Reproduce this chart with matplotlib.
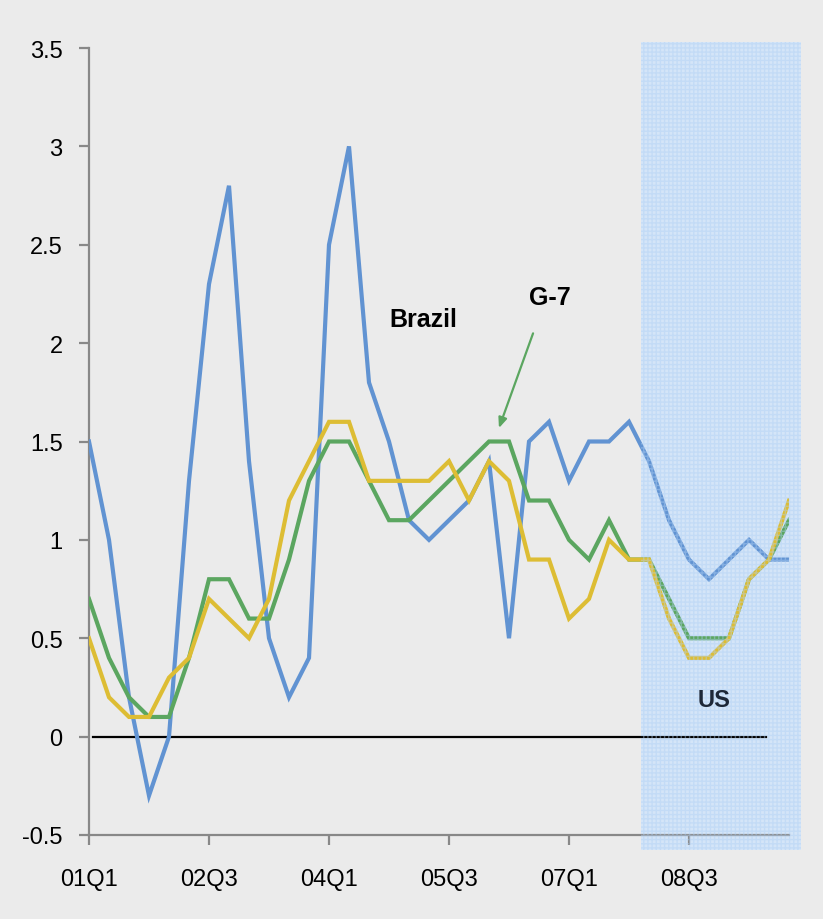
import matplotlib
matplotlib.use("Agg")
import matplotlib.pyplot as plt
from matplotlib.patches import Rectangle
import numpy as np

plt.rcParams['font.family'] = ['Liberation Sans', 'DejaVu Sans']

quarters = [f"{y:02d}Q{q}" for y in range(1, 10) for q in range(1, 5)]
tick_labels = ["01Q1", "02Q3", "04Q1", "05Q3", "07Q1", "08Q3"]

brazil = [1.5, 1.0, 0.2, -0.3, 0.0, 1.3, 2.3, 2.8, 1.4, 0.5, 0.2, 0.4,
          2.5, 3.0, 1.8, 1.5, 1.1, 1.0, 1.1, 1.2, 1.4, 0.5, 1.5, 1.6,
          1.3, 1.5, 1.5, 1.6, 1.4, 1.1, 0.9, 0.8, 0.9, 1.0, 0.9, 0.9]
g7 = [0.7, 0.4, 0.2, 0.1, 0.1, 0.4, 0.8, 0.8, 0.6, 0.6, 0.9, 1.3,
      1.5, 1.5, 1.3, 1.1, 1.1, 1.2, 1.3, 1.4, 1.5, 1.5, 1.2, 1.2,
      1.0, 0.9, 1.1, 0.9, 0.9, 0.7, 0.5, 0.5, 0.5, 0.8, 0.9, 1.1]
us = [0.5, 0.2, 0.1, 0.1, 0.3, 0.4, 0.7, 0.6, 0.5, 0.7, 1.2, 1.4,
      1.6, 1.6, 1.3, 1.3, 1.3, 1.3, 1.4, 1.2, 1.4, 1.3, 0.9, 0.9,
      0.6, 0.7, 1.0, 0.9, 0.9, 0.6, 0.4, 0.4, 0.5, 0.8, 0.9, 1.2]

bg = '#EBEBEB'
fig = plt.figure(figsize=(8.23, 9.2), dpi=100, facecolor=bg)
ax = fig.add_axes([89/823, 1-836/920, 700/823, 787/920])
ax.set_facecolor(bg)

x = np.arange(len(quarters))
ax.plot(x, brazil, color='#6193D2', lw=3.0, solid_joinstyle='miter', zorder=3)
ax.plot(x, g7, color='#5BA660', lw=3.0, solid_joinstyle='miter', zorder=4)
ax.plot(x, us, color='#DDBD34', lw=3.0, solid_joinstyle='miter', zorder=5)

ax.axhline(0, xmin=0.2/35, xmax=33.85/35, color='black', lw=1.6, zorder=2)

ax.set_xlim(0, 35)
ax.set_ylim(-0.5, 3.5)

# shaded US recession region: base under lines, light patterned overlay above
base = Rectangle((27.6, -0.574), 8.0, 4.106, transform=ax.transData,
                 facecolor='#D4E5F8', lw=0, clip_on=False, zorder=1)
ax.add_patch(base)
over = Rectangle((27.6, -0.574), 8.0, 4.106, transform=ax.transData,
                 facecolor='none', edgecolor='#B0D0F4', hatch='++++',
                 lw=0, alpha=0.45, clip_on=False, zorder=6)
ax.add_patch(over)

yt = np.arange(-0.5, 3.51, 0.5)
ax.set_yticks(yt)
ax.set_yticklabels([f"{v:g}" for v in yt])
ax.set_xticks([quarters.index(t) for t in tick_labels])
ax.set_xticklabels(tick_labels)

for s in ['top', 'right']:
    ax.spines[s].set_visible(False)
for s in ['left', 'bottom']:
    ax.spines[s].set_color('#888888')
    ax.spines[s].set_linewidth(1.6)
ax.tick_params(axis='both', colors='#888888', width=1.6, length=7,
               labelcolor='black', labelsize=17)
ax.tick_params(axis='y', pad=12)
ax.tick_params(axis='x', pad=17)

ax.text(16.7, 2.125, 'Brazil', fontsize=18, fontweight='bold', ha='center', va='center', zorder=7)
ax.text(23.05, 2.236, 'G-7', fontsize=18, fontweight='bold', ha='center', va='center', zorder=7)
ax.text(31.25, 0.188, 'US', fontsize=17, fontweight='bold', ha='center', va='center',
        color='#1E2838', zorder=7)
ax.annotate('', xy=(20.45, 1.555), xytext=(22.25, 2.063),
            arrowprops=dict(arrowstyle='-|>,head_length=0.6,head_width=0.25',
                            color='#5BA660', lw=1.6), zorder=7)

fig.savefig('out.png', dpi=100, facecolor=bg)
